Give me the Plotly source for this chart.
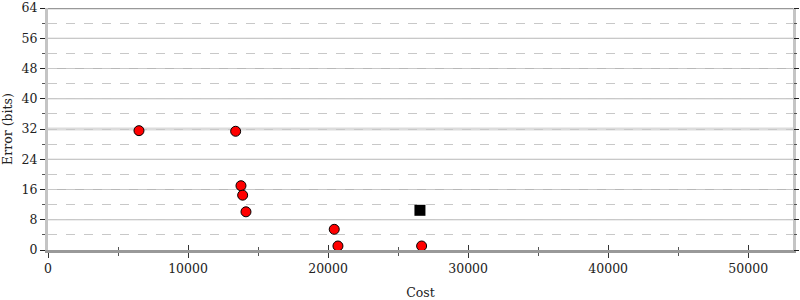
import plotly.graph_objects as go

cost_red = [6497, 13400, 13780, 13900, 14137, 20440, 20705, 26680]
err_red = [31.56, 31.4, 17.0, 14.5, 10.1, 5.47, 1.06, 1.06]
cost_black = [26560]
err_black = [10.5]
y_ticks = [0, 8, 16, 24, 32, 40, 48, 56, 64]
highlight_y = 32

x_max = 53200
y_max = 64
font = "DejaVu Serif"

fig = go.Figure()
fig.add_trace(go.Scatter(x=cost_red, y=err_red, mode="markers",
                         marker=dict(color="#ff0000", size=10, symbol="circle",
                                     line=dict(color="black", width=1)),
                         showlegend=False, cliponaxis=False))
fig.add_trace(go.Scatter(x=cost_black, y=err_black, mode="markers",
                         marker=dict(color="black", size=11, symbol="square",
                                     line=dict(color="black", width=0)),
                         showlegend=False, cliponaxis=False))
fig.add_trace(go.Scatter(x=[0], y=[0], xaxis="x2", yaxis="y2", mode="markers",
                         marker=dict(opacity=0), showlegend=False, hoverinfo="skip"))

for yv in y_ticks[1:-1]:
    if yv == highlight_y:
        fig.add_shape(type="line", xref="paper", x0=0, x1=1, yref="y", y0=yv, y1=yv,
                      line=dict(color="#dcdcdc", width=3), layer="below")
    else:
        fig.add_shape(type="line", xref="paper", x0=0, x1=1, yref="y", y0=yv, y1=yv,
                      line=dict(color="#b8b8b8", width=1), layer="below")
fig.add_shape(type="line", xref="paper", x0=0, x1=1, yref="y", y0=y_max, y1=y_max,
              line=dict(color="#999999", width=2.5), layer="above")

fig.update_layout(
    width=800, height=300,
    margin=dict(l=48, r=7, t=8, b=50),
    paper_bgcolor="white", plot_bgcolor="white",
    font=dict(family=font, size=12.5, color="#222222"),
    xaxis=dict(range=[0, x_max], dtick=10000, tick0=0, automargin=False,
               showgrid=False, zeroline=False,
               showline=True, linecolor="#999999", linewidth=2.5,
               ticks="outside", ticklen=5, tickcolor="#333333", tickwidth=1,
               minor=dict(dtick=5000, ticks="outside", ticklen=3, tickcolor="#555555", showgrid=False),
               title=dict(text="Cost", standoff=14, font=dict(family=font, size=12.5)),
               tickformat="d"),
    yaxis=dict(range=[0, y_max], tickvals=y_ticks, automargin=False,
               showgrid=False,
               zeroline=False,
               showline=True, linecolor="#c4c4c4", linewidth=3, mirror=True,
               ticks="outside", ticklen=5, tickcolor="#222222", tickwidth=1,
               minor=dict(dtick=4, tick0=0, ticks="outside", ticklen=3, tickcolor="#555555",
                          showgrid=True, gridcolor="#c8c8c8", griddash="dash", gridwidth=1),
               title=dict(text="Error (bits)", standoff=8, font=dict(family=font, size=12.5))),
    xaxis2=dict(range=[0, x_max], overlaying="x", anchor="y", dtick=10000, tick0=0, automargin=False,
                showgrid=False, zeroline=False, showticklabels=False, showline=False,
                ticks="inside", ticklen=5, tickcolor="#333333",
                minor=dict(dtick=5000, ticks="inside", ticklen=3, tickcolor="#555555")),
    yaxis2=dict(range=[0, y_max], overlaying="y", anchor="x", side="right", dtick=8, tick0=0, automargin=False,
                showgrid=False, zeroline=False, showticklabels=False, showline=False,
                ticks="outside", ticklen=5, tickcolor="#222222",
                minor=dict(dtick=4, ticks="outside", ticklen=3, tickcolor="#555555")),
)

fig.write_html("out.html")
